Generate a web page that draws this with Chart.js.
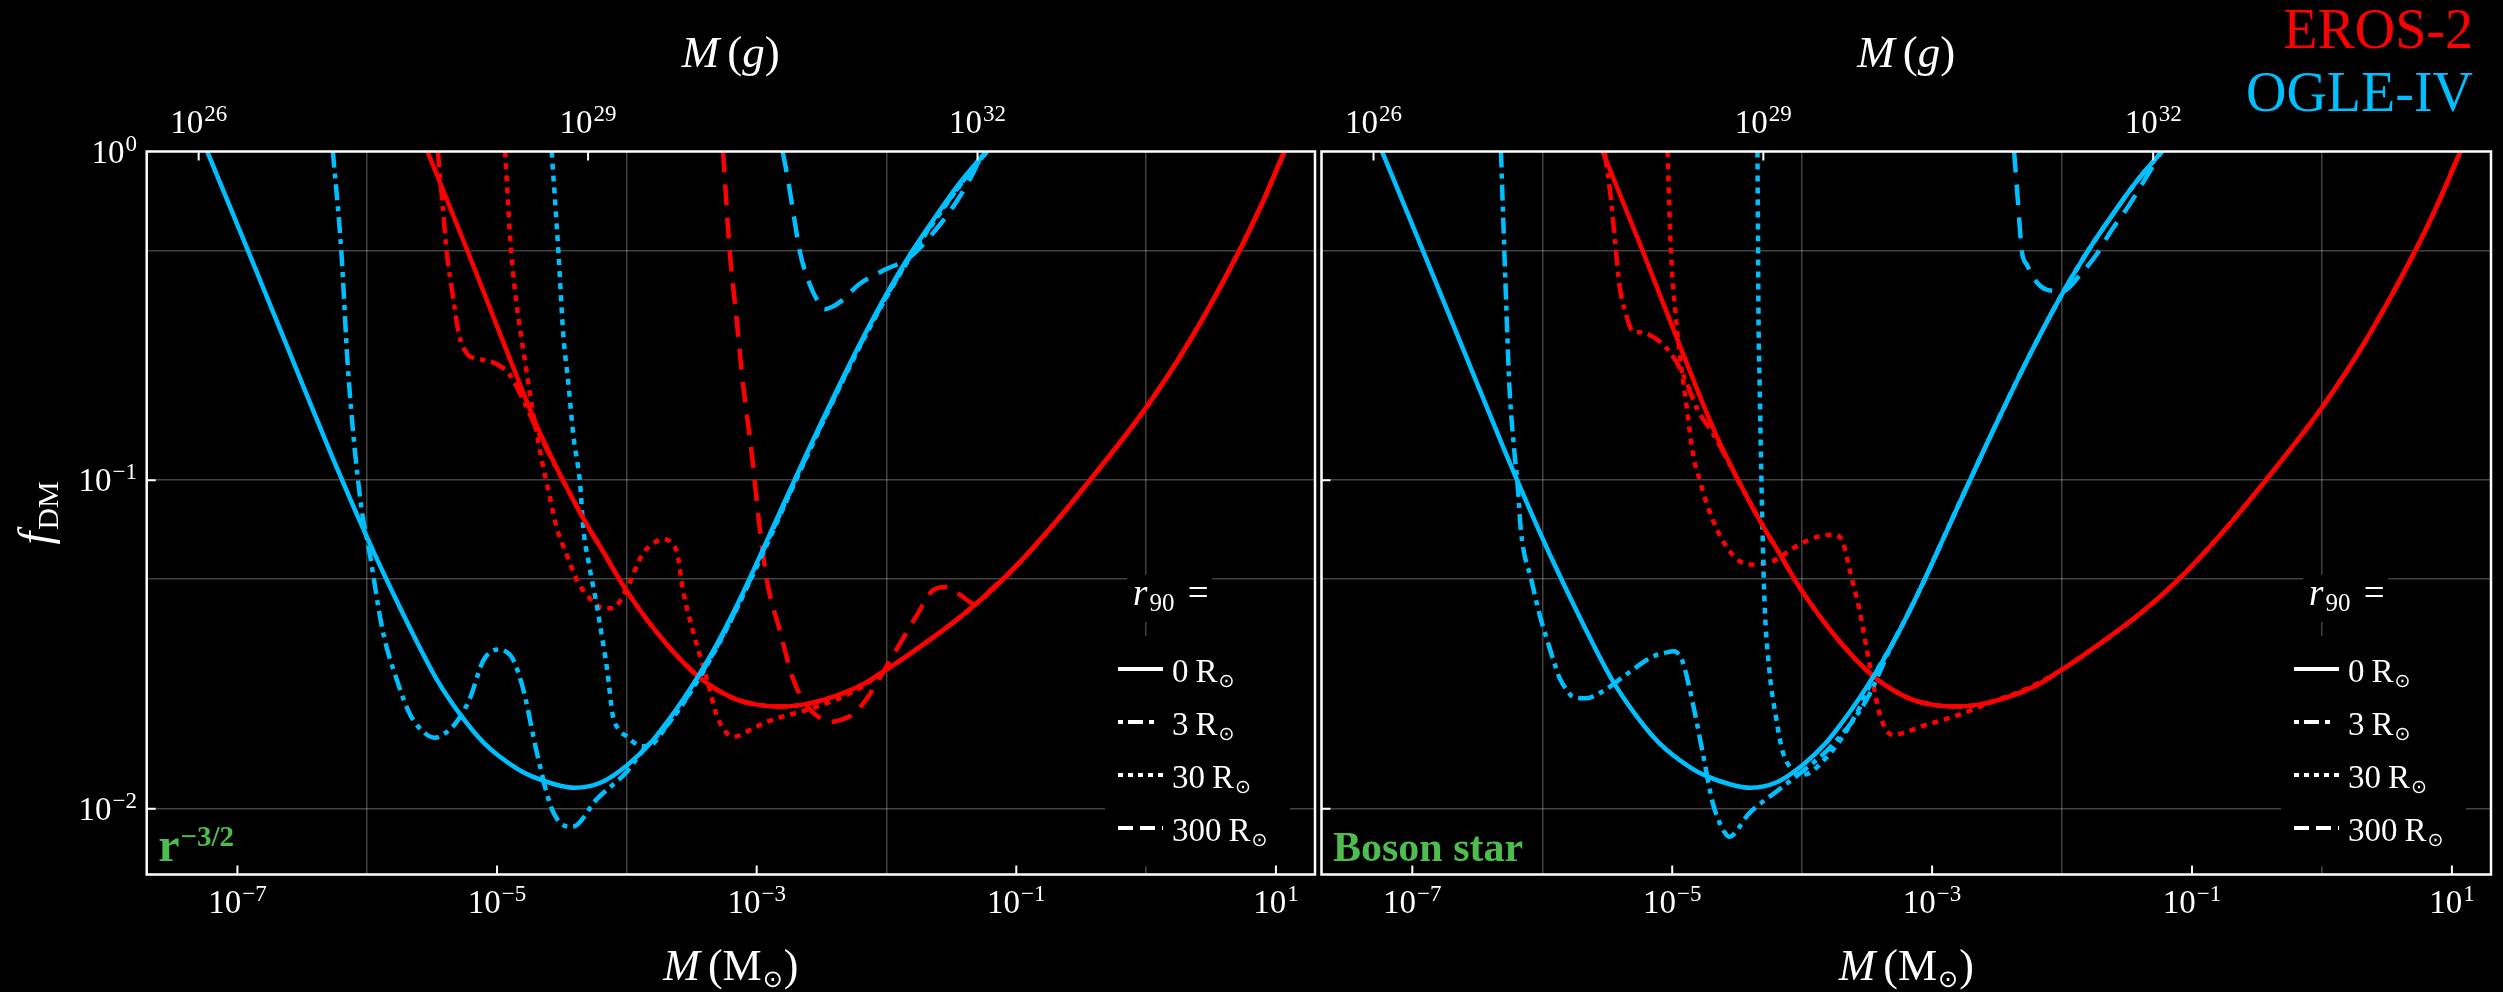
<!DOCTYPE html>
<html>
<head>
<meta charset="utf-8">
<script src="https://cdn.jsdelivr.net/npm/chart.js@4.4.1/dist/chart.umd.min.js"></script>
<style>
  html, body { margin: 0; padding: 0; background: #000; }
  #wrap { position: relative; width: 2503px; height: 992px; }
  canvas { position: absolute; left: 0; top: 0; }
</style>
</head>
<body>
<div id="wrap">
  <canvas id="left" width="2503" height="992"></canvas>
  <canvas id="right" width="2503" height="992"></canvas>
</div>
<script>
// Microlensing bounds on f_DM for extended objects, EROS-2 (red) and OGLE-IV (cyan).
// Left panel: r^-3/2 density profile, right panel: boson star.
// Curves are stored as log10(M / Msun) and log10(f_DM).

const SOLAR_MASS_G = 1.989e33;
const massRange = [2e-8, 20];
const fRange = [Math.pow(10, -2.2), 1];

const bottomExps = [-7, -5, -3, -1, 1];
const topExps = [26, 29, 32];
const leftExps = [0, -1, -2];
const gridDecades = [-6, -4, -2, 0];
const gridF = [0.01, 0.05, 0.1, 0.5];
const legendRadii = ['0', '3', '30', '300'];

// point lens (r90 = 0), identical in both panels
const ogle0M = [-7.233, -6.95, -6.6, -6.3, -6.023, -5.869, -5.62, -5.459, -5.28, -5.10, -4.85, -4.74, -4.55, -4.40, -4.2, -4.0, -3.818, -3.69, -3.56, -3.44, -3.305, -3.18, -3.05, -2.90, -2.792, -2.72, -2.49, -2.233, -2.0, -1.80, -1.59, -1.44, -1.233];
const ogle0F = [0, -0.271, -0.61, -0.90, -1.155, -1.288, -1.49, -1.610, -1.715, -1.800, -1.877, -1.900, -1.926, -1.936, -1.920, -1.868, -1.800, -1.736, -1.664, -1.590, -1.498, -1.403, -1.296, -1.166, -1.072, -1.010, -0.815, -0.607, -0.434, -0.302, -0.18, -0.098, 0];
const eros0M = [-5.536, -5.228, -4.946, -4.664, -4.408, -4.279, -4.20, -4.0, -3.69, -3.433, -3.177, -3.0, -2.818, -2.6, -2.408, -2.2, -2.023, -1.869, -1.38, -1.06, -0.746, -0.438, 0.0, 0.333, 0.718, 0.897, 1.065];
const eros0F = [0, -0.302, -0.586, -0.861, -1.064, -1.155, -1.206, -1.338, -1.501, -1.603, -1.664, -1.683, -1.689, -1.680, -1.659, -1.625, -1.582, -1.542, -1.40, -1.285, -1.150, -1.003, -0.779, -0.578, -0.302, -0.155, 0];

// r^-3/2 profile; past the merge point a curve runs along the point-lens bound
const ogle3aM = [-6.265, -6.20, -6.149, -6.052, -5.98, -5.88, -5.77, -5.67, -5.57, -5.48, -5.40, -5.31, -5.21, -5.11, -5.04, -4.98, -4.92, -4.88, -4.80, -4.69, -4.59, -4.52, -4.42, -4.23, -4.0, -3.88, -3.69, -3.44, -3.18, -2.90, -2.72, -2.49, -2.233, -2.0, -1.80, -1.59, -1.40, -1.225];
const ogle3aF = [0, -0.302, -0.658, -1.064, -1.226, -1.46, -1.61, -1.713, -1.765, -1.784, -1.770, -1.735, -1.665, -1.552, -1.52, -1.515, -1.525, -1.543, -1.634, -1.835, -1.988, -2.04, -2.055, -1.97, -1.887, -1.825, -1.745, -1.598, -1.410, -1.172, -1.016, -0.821, -0.612, -0.44, -0.308, -0.186, -0.085, 0];
const ogle30aM = [-4.579, -4.528, -4.49, -4.45, -4.413, -4.36, -4.336, -4.29, -4.233, -4.19, -4.15, -4.11, -4.06, -4.0, -3.94, -3.88, -3.818, -3.69, -3.56, -3.305, -3.05, -2.72, -2.49, -2.233, -2.0, -1.80, -1.59, -1.40, -1.228];
const ogle30aF = [0, -0.302, -0.556, -0.708, -0.861, -1.013, -1.145, -1.26, -1.378, -1.48, -1.582, -1.713, -1.76, -1.78, -1.80, -1.81, -1.807, -1.746, -1.676, -1.508, -1.306, -1.020, -0.824, -0.615, -0.443, -0.311, -0.189, -0.085, 0];
const ogle300aM = [-2.80, -2.757, -2.72, -2.669, -2.592, -2.515, -2.477, -2.42, -2.362, -2.208, -2.028, -1.823, -1.669, -1.49, -1.336, -1.26];
const ogle300aF = [0, -0.09, -0.18, -0.302, -0.403, -0.464, -0.48, -0.473, -0.459, -0.403, -0.363, -0.322, -0.261, -0.17, -0.068, 0];
const eros3aM = [-5.456, -5.42, -5.389, -5.34, -5.294, -5.229, -5.18, -5.132, -5.003, -4.905, -4.80, -4.70].concat(eros0M.slice(4));
const eros3aF = [0, -0.16, -0.302, -0.44, -0.556, -0.617, -0.628, -0.632, -0.647, -0.678, -0.755, -0.84].concat(eros0F.slice(4));
const eros30aM = [-4.938, -4.892, -4.777, -4.669, -4.60, -4.54, -4.46, -4.38, -4.26, -4.18, -4.11, -4.0, -3.88, -3.77, -3.71, -3.66, -3.61, -3.57, -3.49, -3.38, -3.31, -3.23, -3.17, -3.05, -2.92, -2.54, -2.21].concat(eros0M.slice(16));
const eros30aF = [0, -0.302, -0.658, -0.912, -1.04, -1.145, -1.23, -1.308, -1.37, -1.39, -1.39, -1.329, -1.226, -1.186, -1.18, -1.19, -1.226, -1.33, -1.46, -1.61, -1.713, -1.77, -1.78, -1.76, -1.735, -1.69, -1.634].concat(eros0F.slice(16));
const eros300aM = [-3.259, -3.208, -3.156, -3.105, -3.04, -2.977, -2.92, -2.82, -2.72, -2.62, -2.49, -2.42, -2.34, -2.26, -2.15, -2.05, -1.90, -1.765, -1.636, -1.54, -1.43, -1.31, -1.2].concat(eros0M.slice(19));
const eros300aF = [0, -0.302, -0.505, -0.708, -0.912, -1.145, -1.308, -1.46, -1.604, -1.683, -1.729, -1.735, -1.728, -1.713, -1.664, -1.60, -1.50, -1.41, -1.333, -1.325, -1.35, -1.379, -1.335].concat(eros0F.slice(19));

// boson star
const ogle3bM = [-6.318, -6.292, -6.274, -6.254, -6.215, -6.19, -6.164, -6.08, -6.02, -5.96, -5.90, -5.869, -5.80, -5.767, -5.664, -5.536, -5.356, -5.151, -5.05, -4.985, -4.95, -4.92, -4.844, -4.767, -4.69, -4.638, -4.60, -4.562, -4.408, -4.20, -4.0, -3.767, -3.51].concat(ogle0M.slice(20));
const ogle3bF = [0, -0.302, -0.505, -0.708, -0.912, -1.013, -1.155, -1.31, -1.41, -1.49, -1.565, -1.60, -1.645, -1.659, -1.664, -1.643, -1.592, -1.537, -1.525, -1.521, -1.53, -1.552, -1.674, -1.826, -1.979, -2.04, -2.07, -2.085, -2.014, -1.948, -1.887, -1.806, -1.672].concat(ogle0F.slice(20));
const ogle30bM = [-4.344, -4.340, -4.336, -4.327, -4.318, -4.305, -4.29, -4.254, -4.20, -4.15, -4.08, -4.01, -3.94, -3.87, -3.715, -3.56].concat(ogle0M.slice(19));
const ogle30bF = [0, -0.25, -0.505, -0.71, -0.912, -1.155, -1.369, -1.572, -1.725, -1.826, -1.88, -1.897, -1.89, -1.867, -1.796, -1.694].concat(ogle0F.slice(19));
const ogle300bM = [-2.369, -2.34, -2.31, -2.27, -2.233, -2.19, -2.12, -2.0, -1.85, -1.732, -1.62, -1.495, -1.37, -1.26, -1.235];
const ogle300bF = [0, -0.15, -0.302, -0.345, -0.373, -0.40, -0.42, -0.425, -0.37, -0.312, -0.24, -0.17, -0.09, -0.017, 0];
const eros3bM = [-5.52, -5.47, -5.433, -5.405, -5.36, -5.305, -5.25, -5.203, -5.074, -4.972, -4.895, -4.80, -4.70].concat(eros0M.slice(4));
const eros3bF = [0, -0.15, -0.302, -0.41, -0.49, -0.546, -0.550, -0.553, -0.586, -0.637, -0.698, -0.79, -0.85].concat(eros0F.slice(4));
const eros30bM = [-5.036, -5.01, -4.972, -4.946, -4.895, -4.844, -4.779, -4.741, -4.65, -4.536, -4.433, -4.369, -4.30, -4.228, -4.023, -3.869, -3.767, -3.703, -3.67, -3.638, -3.562, -3.485, -3.408, -3.36, -3.305, -3.05, -2.792, -2.536, -2.28].concat(eros0M.slice(16));
const eros30bF = [0, -0.302, -0.505, -0.607, -0.759, -0.912, -1.013, -1.064, -1.155, -1.227, -1.255, -1.257, -1.254, -1.247, -1.196, -1.171, -1.166, -1.176, -1.21, -1.267, -1.389, -1.552, -1.705, -1.755, -1.775, -1.745, -1.714, -1.674, -1.636].concat(eros0F.slice(16));

const RED = '#ff0000';
const CYAN = '#00bfff';
const GREEN = '#4dbd4d';
const GRID = 'rgba(255,255,255,0.26)';
const serif = '"Liberation Serif", "DejaVu Serif", serif';
const sun = '"DejaVu Sans", sans-serif';

// line styles for r90 = 0, 3, 30, 300 Rsun
const curveDash = [[], [16, 6, 5, 6], [6, 6], [21, 12]];
const legendDash = [[], [5, 5, 15, 6, 5, 20], [5, 5], [15, 7]];

function curve(logM, logF, color, style) {
  return {
    data: logM.map((m, i) => ({ x: Math.pow(10, m), y: Math.pow(10, logF[i]) })),
    borderColor: color,
    borderWidth: 4.5,
    borderDash: curveDash[style],
    borderCapStyle: 'butt',
    pointRadius: 0,
    fill: false,
    cubicInterpolationMode: 'monotone'
  };
}

// draw a row of text pieces with their own fonts and offsets
function drawRuns(ctx, runs, x, y, align) {
  let width = 0;
  runs.forEach(r => {
    ctx.font = r.font;
    r.w = ctx.measureText(r.t).width + (r.dx || 0);
    width += r.w;
  });
  let cx = align === 'center' ? x - width / 2 : align === 'right' ? x - width : x;
  ctx.textAlign = 'left';
  ctx.textBaseline = 'alphabetic';
  runs.forEach(r => {
    ctx.font = r.font;
    ctx.fillText(r.t, cx + (r.dx || 0), y + (r.dy || 0));
    cx += r.w;
  });
}

function powRuns(k) {
  const exp = k < 0 ? '\u2212' + (-k) : String(k);
  return [
    { t: '10', font: `33px ${serif}` },
    { t: exp, font: `23px ${serif}`, dy: -12, dx: 1 }
  ];
}

const decor = {
  id: 'decor',
  beforeDatasetsDraw(chart) {
    // legend backgrounds hide the grid behind them
    const a = chart.chartArea;
    const ctx = chart.ctx;
    ctx.save();
    ctx.fillStyle = '#000';
    ctx.fillRect(a.right - 188, 575, 85, 47);
    ctx.fillRect(a.right - 210, 636, 185, 230);
    ctx.restore();
  },
  afterDraw(chart, args, opts) {
    const a = chart.chartArea;
    const ctx = chart.ctx;
    const xs = chart.scales.x, x2 = chart.scales.x2, ys = chart.scales.y;
    const midX = (a.left + a.right) / 2;
    ctx.save();

    // frame
    ctx.strokeStyle = '#fff';
    ctx.lineWidth = 2.5;
    ctx.strokeRect(a.left, a.top, a.right - a.left, a.bottom - a.top);

    // inward tick marks
    ctx.lineWidth = 2;
    ctx.beginPath();
    bottomExps.forEach(k => {
      const px = xs.getPixelForValue(Math.pow(10, k));
      ctx.moveTo(px, a.bottom); ctx.lineTo(px, a.bottom - 9);
    });
    topExps.forEach(k => {
      const px = x2.getPixelForValue(Math.pow(10, k));
      ctx.moveTo(px, a.top); ctx.lineTo(px, a.top + 9);
    });
    leftExps.slice(1).forEach(k => {
      const py = ys.getPixelForValue(Math.pow(10, k));
      ctx.moveTo(a.left, py); ctx.lineTo(a.left + 9, py);
    });
    ctx.stroke();

    // tick labels
    ctx.fillStyle = '#fff';
    bottomExps.forEach(k => drawRuns(ctx, powRuns(k), xs.getPixelForValue(Math.pow(10, k)), 913, 'center'));
    topExps.forEach(k => drawRuns(ctx, powRuns(k), x2.getPixelForValue(Math.pow(10, k)), 133, 'center'));
    if (opts.yLabels) {
      leftExps.forEach(k => drawRuns(ctx, powRuns(k), 137, ys.getPixelForValue(Math.pow(10, k)) + 11, 'right'));
      ctx.save();
      ctx.translate(50, 513);
      ctx.rotate(-Math.PI / 2);
      drawRuns(ctx, [
        { t: 'f', font: `italic 46px ${serif}` },
        { t: 'DM', font: `30px ${serif}`, dy: 8, dx: 2 }
      ], 0, 0, 'center');
      ctx.restore();
    }

    // axis titles
    drawRuns(ctx, [
      { t: 'M', font: `italic 45px ${serif}` },
      { t: '(', font: `45px ${serif}`, dx: 8 },
      { t: 'g', font: `italic 45px ${serif}` },
      { t: ')', font: `45px ${serif}` }
    ], midX, 67, 'center');
    drawRuns(ctx, [
      { t: 'M', font: `italic 44px ${serif}` },
      { t: '(M', font: `44px ${serif}`, dx: 8 },
      { t: '\u2299', font: `24px ${sun}`, dy: 7, dx: 1 },
      { t: ')', font: `44px ${serif}`, dx: 1 }
    ], midX, 980, 'center');

    // legend
    drawRuns(ctx, [
      { t: 'r', font: `italic 37px ${serif}` },
      { t: '90', font: `25px ${serif}`, dy: 6, dx: 2 },
      { t: ' =', font: `37px ${serif}`, dx: 4 }
    ], a.right - 182, 605, 'left');
    ctx.strokeStyle = '#fff';
    ctx.lineWidth = 4;
    ctx.lineCap = 'butt';
    legendRadii.forEach((r, i) => {
      const ly = 669 + i * 53;
      ctx.setLineDash(legendDash[i]);
      ctx.beginPath();
      ctx.moveTo(a.right - 197, ly);
      ctx.lineTo(a.right - 152, ly);
      ctx.stroke();
      drawRuns(ctx, [
        { t: r, font: `33px ${serif}` },
        { t: 'R', font: `33px ${serif}`, dx: 7 },
        { t: '\u2299', font: `19px ${sun}`, dy: 5, dx: 1 }
      ], a.right - 143, ly + 13, 'left');
    });
    ctx.setLineDash([]);

    // profile name
    ctx.fillStyle = GREEN;
    drawRuns(ctx, opts.label, a.left + 11.5, 861, 'left');

    // survey names
    if (opts.surveys) {
      ctx.fillStyle = RED;
      drawRuns(ctx, [{ t: 'EROS-2', font: `56px ${serif}` }], 2473, 48, 'right');
      ctx.fillStyle = CYAN;
      drawRuns(ctx, [{ t: 'OGLE-IV', font: `56px ${serif}` }], 2473, 111, 'right');
    }
    ctx.restore();
  }
};

function makePanel(id, datasets, padLeft, padRight, opts) {
  const ctx = document.getElementById(id).getContext('2d');
  return new Chart(ctx, {
    type: 'line',
    data: { datasets: datasets },
    options: {
      responsive: false,
      animation: false,
      devicePixelRatio: 1,
      events: [],
      layout: { autoPadding: false, padding: { left: padLeft, right: padRight, top: 151.5, bottom: 117.5 } },
      scales: {
        x: {
          type: 'logarithmic', position: 'bottom',
          min: massRange[0], max: massRange[1],
          afterBuildTicks: s => { s.ticks = gridDecades.map(k => ({ value: Math.pow(10, k) })); },
          ticks: { display: false },
          grid: { color: GRID, lineWidth: 1.5, drawTicks: false },
          border: { display: false }
        },
        x2: {
          type: 'logarithmic', position: 'top',
          min: massRange[0] * SOLAR_MASS_G, max: massRange[1] * SOLAR_MASS_G,
          afterBuildTicks: s => { s.ticks = topExps.map(k => ({ value: Math.pow(10, k) })); },
          ticks: { display: false },
          grid: { display: false, drawTicks: false },
          border: { display: false }
        },
        y: {
          type: 'logarithmic', position: 'left',
          min: fRange[0], max: fRange[1],
          afterBuildTicks: s => { s.ticks = gridF.map(v => ({ value: v })); },
          ticks: { display: false },
          grid: { color: GRID, lineWidth: 1.5, drawTicks: false },
          border: { display: false }
        }
      },
      plugins: {
        legend: { display: false },
        tooltip: { enabled: false },
        decor: opts
      }
    },
    plugins: [decor]
  });
}

document.addEventListener('DOMContentLoaded', () => {
  makePanel('left', [
    curve(ogle0M, ogle0F, CYAN, 0),
    curve(eros0M, eros0F, RED, 0),
    curve(ogle3aM, ogle3aF, CYAN, 1),
    curve(ogle30aM, ogle30aF, CYAN, 2),
    curve(ogle300aM, ogle300aF, CYAN, 3),
    curve(eros3aM, eros3aF, RED, 1),
    curve(eros30aM, eros30aF, RED, 2),
    curve(eros300aM, eros300aF, RED, 3)
  ], 146.7, 1188, {
    yLabels: true,
    surveys: false,
    label: [
      { t: 'r', font: `bold 48px ${serif}` },
      { t: '\u22123/2', font: `bold 29px ${serif}`, dy: -15, dx: 1 }
    ]
  });

  makePanel('right', [
    curve(ogle0M, ogle0F, CYAN, 0),
    curve(eros0M, eros0F, RED, 0),
    curve(ogle3bM, ogle3bF, CYAN, 1),
    curve(ogle30bM, ogle30bF, CYAN, 2),
    curve(ogle300bM, ogle300bF, CYAN, 3),
    curve(eros3bM, eros3bF, RED, 1),
    curve(eros30bM, eros30bF, RED, 2)
  ], 1321.5, 12, {
    yLabels: false,
    surveys: true,
    label: [{ t: 'Boson star', font: `bold 42px ${serif}` }]
  });
});
</script>
</body>
</html>
